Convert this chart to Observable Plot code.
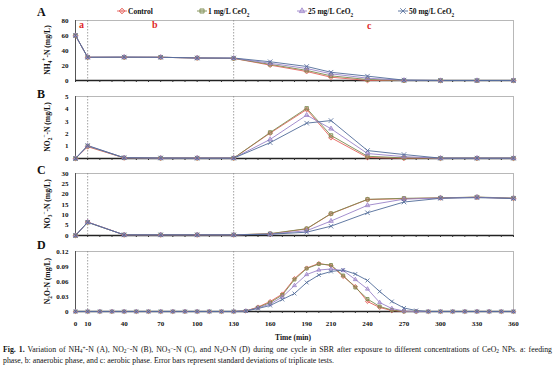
<!DOCTYPE html>
<html><head><meta charset="utf-8">
<script src="https://cdn.jsdelivr.net/npm/d3@7"></script>
<script src="https://cdn.jsdelivr.net/npm/@observablehq/plot@0.6"></script>
<style>
body{margin:0;background:#fff;}
#root{position:relative;width:554px;height:369px;overflow:hidden;font-family:"Liberation Serif","Times New Roman",serif;color:#111;}
.abs{position:absolute;white-space:nowrap;}
.plotwrap{position:absolute;left:0;}
sub,sup{font-size:70%;line-height:0;}
.cap sub{vertical-align:-0.15em;}
.cap sup{vertical-align:0.3em;}
.letter{font-weight:bold;font-size:12px;}
.ylab{font-weight:bold;font-size:7.6px;transform:translate(-50%,-50%) rotate(-90deg);}
.phase{color:#e02a2a;font-weight:bold;font-size:10px;}
.leg{font-weight:bold;font-size:7.5px;display:flex;align-items:center;}
.cap{font-size:7.8px;left:3px;width:549px;line-height:9px;}
</style></head><body><div id="root"></div>
<script>
const ser = ["Control","1 mg/L CeO2","25 mg/L CeO2","50 mg/L CeO2"];
const serHtml = ["Control","1 mg/L CeO<sub>2</sub>","25 mg/L CeO<sub>2</sub>","50 mg/L CeO<sub>2</sub>"];
const colors = ["#e5615b","#7a8a4e","#9a82c8","#506b98"];
const symbols = ["diamond2","square2","triangle2","times"];

const timesMain = [0,10,40,70,100,130,160,190,210,240,270,300,330,360];
const xTickLabels = [0,10,40,70,100,130,160,190,210,240,270,300,330,360];
const minorTicks = [0,10,20,30,40,50,60,70,80,90,100,110,120,130,140,150,160,170,180,190,200,210,220,230,240,250,260,270,280,290,300,310,320,330,340,350,360];

// Panel A: NH4+-N
const nh4_control = [60,31,31,31,30,29.5,20.5,12,4.4,0,0,0,0,0];
const nh4_1mg     = [60,31,31,31,30,29.5,21.5,13.5,6.2,1.3,0,0,0,0];
const nh4_25mg    = [60,31,31.2,31,30,29.8,23,16,8.9,3.1,0.3,0,0,0];
const nh4_50mg    = [60,31,31.2,31,30,30,25,18.7,11,5.8,0.5,0,0,0];

// Panel B: NO2--N
const no2_control = [0,0.95,0.05,0.03,0.03,0.03,2.05,3.95,1.68,0.08,0.02,0.02,0.02,0.02];
const no2_1mg     = [0,1.0,0.05,0.03,0.03,0.03,2.1,4.05,1.86,0.18,0.05,0.02,0.02,0.02];
const no2_25mg    = [0,1.02,0.06,0.03,0.03,0.03,1.54,3.5,2.4,0.4,0.15,0.02,0.02,0.02];
const no2_50mg    = [0,1.05,0.06,0.04,0.03,0.03,1.28,2.85,3.06,0.64,0.32,0.03,0.03,0.03];

// Panel C: NO3--N
const no3_control = [0,6.5,0.3,0.3,0.3,0.3,0.8,3.2,10.5,17.4,17.8,18.2,18.5,18.0];
const no3_1mg     = [0,6.4,0.3,0.3,0.3,0.3,0.9,3.3,10.6,17.5,18.0,18.2,18.6,18.1];
const no3_25mg    = [0,6.5,0.3,0.3,0.3,0.3,0.7,2.3,7.0,14.6,17.6,18.1,18.5,18.0];
const no3_50mg    = [0,6.4,0.3,0.3,0.3,0.3,0.6,1.6,4.5,11.0,16.2,18.0,18.3,17.9];

// Panel D: N2O-N (every 10 min)
const timesN2O = [0,10,20,30,40,50,60,70,80,90,100,110,120,130,140,150,160,170,180,190,200,210,220,230,240,250,260,270,280,290,300,310,320,330,340,350,360];
const n2o_control = [0,0,0,0,0,0,0,0,0,0,0,0,0,0,0.001,0.009,0.020,0.035,0.066,0.087,0.096,0.092,0.070,0.050,0.020,0.008,0.002,0,0,0,0,0,0,0,0,0,0];
const n2o_1mg     = [0,0,0,0,0,0,0,0,0,0,0,0,0,0,0.001,0.008,0.018,0.033,0.064,0.086,0.095,0.093,0.072,0.048,0.025,0.010,0.003,0,0,0,0,0,0,0,0,0,0];
const n2o_25mg    = [0,0,0,0,0,0,0,0,0,0,0,0,0,0,0.001,0.007,0.015,0.029,0.052,0.074,0.083,0.085,0.082,0.064,0.045,0.018,0.006,0.001,0,0,0,0,0,0,0,0,0];
const n2o_50mg    = [0,0,0,0,0,0,0,0,0,0,0,0,0,0,0.001,0.006,0.012,0.024,0.036,0.058,0.073,0.080,0.083,0.075,0.062,0.040,0.020,0.007,0.002,0,0,0,0,0,0,0,0];

const yTicksA = [0,20,40,60,80];
const yTicksB = [0,1,2,3,4,5];
const yTicksC = [0,5,10,15,20,25,30];
const yTicksD = [0,0.03,0.06,0.09,0.12];

function build(times, arrays){
  return arrays.flatMap((vals,i)=>vals.map((v,j)=>({t:times[j], v, s:ser[i]})));
}

const root = document.getElementById("root");

function panel(rows, o){
  const mt = 5;
  const marks = [
    Plot.frame({stroke:"#b8b8b8", strokeWidth:1}),
    Plot.ruleX([10,130],{stroke:"#8a8a8a", strokeDasharray:"1.5,1.5", strokeWidth:0.8}),
    Plot.ruleX([0],{stroke:"#555", strokeWidth:1}),
    Plot.ruleY([o.domain[0]],{stroke:"#222", strokeWidth:1.3}),
    Plot.axisY({ticks:o.ticks, tickFormat:o.fmt, tickSize:0, tickPadding:7, label:null}),
    Plot.axisX({ticks:minorTicks, tickSize:2, tickFormat:()=>"", label:null, stroke:"#333"}),
    Plot.line(rows,{x:"t", y:"v", z:"s", stroke:"s", strokeWidth:0.9}),
    Plot.dot(rows,{x:"t", y:"v", symbol:"s", stroke:"s", fill:"s", fillOpacity:0.3, r:o.r||2.2, strokeWidth:0.8})
  ];
  if (o.showX) marks.push(Plot.axisX({ticks:xTickLabels, tickSize:0, tickPadding:10, label:null}));
  const svg = Plot.plot({
    width:554, height:mt+o.h+o.mb,
    marginLeft:75, marginRight:41, marginTop:mt, marginBottom:o.mb,
    style:{background:"transparent", fontFamily:"'Liberation Serif','Times New Roman',serif", fontSize:"7px", fontWeight:"bold", color:"#111", overflow:"visible"},
    x:{domain:[0,360]},
    y:{domain:o.domain},
    color:{domain:ser, range:colors},
    symbol:{domain:ser, range:symbols},
    marks
  });
  const w = document.createElement("div");
  w.className = "plotwrap";
  w.style.top = (o.top - mt) + "px";
  w.appendChild(svg);
  root.appendChild(w);
}

panel(build(timesMain,[nh4_control,nh4_1mg,nh4_25mg,nh4_50mg]),{domain:[0,80], ticks:yTicksA, fmt:d=>String(d), top:20, h:60, mb:6});
panel(build(timesMain,[no2_control,no2_1mg,no2_25mg,no2_50mg]),{domain:[0,5], ticks:yTicksB, fmt:d=>String(d), top:96, h:62, mb:6});
panel(build(timesMain,[no3_control,no3_1mg,no3_25mg,no3_50mg]),{domain:[0,30], ticks:yTicksC, fmt:d=>String(d), top:173, h:62, mb:6});
panel(build(timesN2O,[n2o_control,n2o_1mg,n2o_25mg,n2o_50mg]),{domain:[0,0.12], ticks:yTicksD, fmt:d=>d===0?"0":d.toFixed(2), top:251, h:60, mb:20, showX:true, r:1.9});

function addHtml(cls, html, styles){
  const d = document.createElement("div");
  d.className = "abs " + cls;
  d.innerHTML = html;
  Object.assign(d.style, styles);
  root.appendChild(d);
  return d;
}

// panel letters
addHtml("letter","A",{left:"37px",top:"5px"});
addHtml("letter","B",{left:"37px",top:"87px"});
addHtml("letter","C",{left:"37px",top:"163px"});
addHtml("letter","D",{left:"37px",top:"238px"});

// y labels
addHtml("ylab","NH<sub>4</sub><sup>+</sup>-N (mg/L)",{left:"47px",top:"50px"});
addHtml("ylab","NO<sub>2</sub><sup>−</sup>-N (mg/L)",{left:"47px",top:"127px"});
addHtml("ylab","NO<sub>3</sub><sup>−</sup>-N (mg/L)",{left:"47px",top:"204px"});
addHtml("ylab","N<sub>2</sub>O-N (mg/L)",{left:"47px",top:"281px"});

// phase labels
addHtml("phase","a",{left:"79px",top:"19px"});
addHtml("phase","b",{left:"152px",top:"19px"});
addHtml("phase","c",{left:"367px",top:"20px"});

// legend
const legX = [117,197,297,398];
ser.forEach((s,i)=>{
  const d = addHtml("leg","",{left:legX[i]+"px",top:"6px"});
  const sv = d3.create("svg").attr("width",10).attr("height",10);
  sv.append("line").attr("x1",0).attr("x2",10).attr("y1",5).attr("y2",5).attr("stroke",colors[i]).attr("stroke-width",0.9);
  const symMap = {"diamond2":d3.symbolDiamond2,"square2":d3.symbolSquare2,"triangle2":d3.symbolTriangle2,"times":d3.symbolTimes};
  sv.append("path").attr("transform","translate(5,5)").attr("d",d3.symbol(symMap[symbols[i]],22)())
    .attr("stroke",colors[i]).attr("fill",colors[i]).attr("fill-opacity",0.3).attr("stroke-width",0.8);
  d.appendChild(sv.node());
  const t = document.createElement("span");
  t.innerHTML = serHtml[i];
  t.style.marginLeft = "1px";
  d.appendChild(t);
});

// x label
addHtml("","Time (min)",{left:"293px",top:"333px",transform:"translateX(-50%)",fontWeight:"bold",fontSize:"7.5px"});

// caption
addHtml("cap","<b>Fig. 1.</b> Variation of NH<sub>4</sub><sup>+</sup>-N (A), NO<sub>2</sub><sup>−</sup>-N (B), NO<sub>3</sub><sup>−</sup>-N (C), and N<sub>2</sub>O-N (D) during one cycle in SBR after exposure to different concentrations of CeO<sub>2</sub> NPs. a: feeding",{top:"345px",textAlign:"justify",textAlignLast:"justify",whiteSpace:"nowrap"});
addHtml("cap","phase, b: anaerobic phase, and c: aerobic phase. Error bars represent standard deviations of triplicate tests.",{top:"356px"});
</script></body></html>
